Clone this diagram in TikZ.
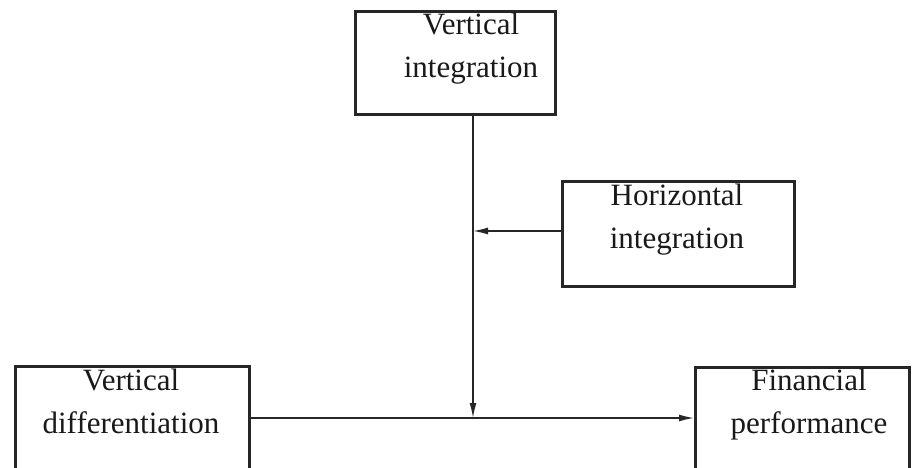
\documentclass[tikz,border=0pt]{standalone}
\usepackage{fontspec}
\setmainfont{Liberation Serif}
\usetikzlibrary{arrows.meta}
\begin{document}
\begin{tikzpicture}[x=1pt,y=-1pt,
  boxst/.style={draw=black!85, line width=2.8pt, inner sep=0pt, anchor=north west},
  txt/.style={inner sep=0pt, anchor=base, font=\fontsize{31}{43}\selectfont, text=black!90},
  conn/.style={line width=1.5pt, draw=black!85},
  tip/.style={-{Latex[length=15pt,width=7pt]}}]
\useasboundingbox (0,0) rectangle (916,468);
\clip (0,0) rectangle (916,468);
\fill[white] (0,0) rectangle (916,468);
% boxes
\node[boxst, minimum width=200pt, minimum height=103pt] (vi) at (354,10) {};
\node[boxst, minimum width=232pt, minimum height=105pt] (hi) at (561,180) {};
\node[boxst, minimum width=234pt, minimum height=120pt] (vd) at (14,365) {};
\node[boxst, minimum width=214pt, minimum height=120pt] (fp) at (694,366) {};
% texts
\node[txt] (vit1) at (471,35) {Vertical};
\node[txt] (vit2) at (471,78) {integration};
\node[txt] (hit1) at (677,205) {Horizontal};
\node[txt] (hit2) at (677,248) {integration};
\node[txt] (vdt1) at (131,390) {Vertical};
\node[txt] (vdt2) at (131,433) {differentiation};
\node[txt] (fpt1) at (809,390) {Financial};
\node[txt] (fpt2) at (809,433) {performance};
% junctions
\coordinate (j1) at (473,231);
\coordinate (j2) at (473,418);
% connectors
\draw[conn, tip] (j1 |- vi.south) -- (j2);
\draw[conn, tip] (hi.west |- j1) -- (j1);
\draw[conn, tip] (vd.east |- j2) -- (fp.west |- j2);
\end{tikzpicture}
\end{document}
